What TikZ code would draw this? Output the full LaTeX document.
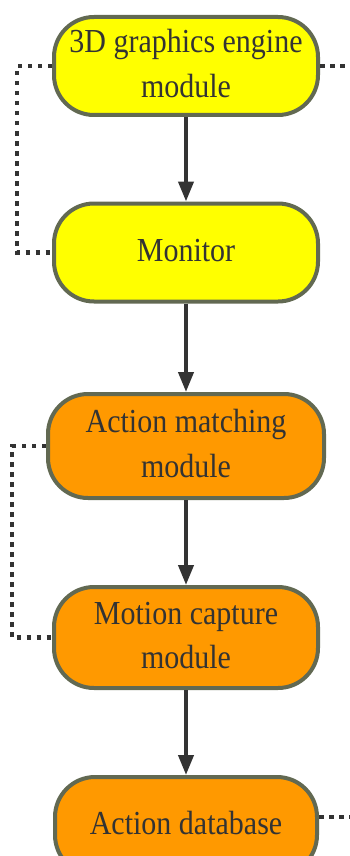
\documentclass[tikz,border=0pt]{standalone}
\usepackage{fontspec}
\setmainfont{Liberation Serif}
\usepackage{xcolor}
\usetikzlibrary{arrows.meta}
\definecolor{rimgrey}{RGB}{98,105,82}
\definecolor{inkgrey}{RGB}{51,51,51}
\definecolor{modorange}{RGB}{255,153,0}
\definecolor{modyellow}{RGB}{255,255,0}
\newcommand{\tallt}[1]{\scalebox{1}[1.12]{\begin{tabular}{@{}c@{}}#1\end{tabular}}}
\tikzset{
  modbox/.style={draw=rimgrey, line width=4pt, rounded corners=40pt,
    minimum width=264pt, minimum height=98pt, align=center, inner sep=0pt,
    text=inkgrey, font=\rmfamily\fontsize{30}{40}\selectfont},
  ybox/.style={modbox, fill=modyellow},
  obox/.style={modbox, fill=modorange},
  flow/.style={draw=inkgrey, line width=4pt,
    -{Triangle[width=15pt,length=20pt]}},
  dotline/.style={draw=inkgrey, line width=4.5pt,
    dash pattern=on 4.5pt off 5.5pt}
}

\begin{document}
\begin{tikzpicture}[x=1pt,y=-1pt]
\useasboundingbox (0,0) rectangle (350,856);
\clip (0,0) rectangle (350,856);

\node[ybox] (engine) at (186,66) {\tallt{3D graphics engine\\module}};
\node[ybox] (monitor) at (186,252.5) {\tallt{Monitor}};
\node[obox, minimum width=276pt, minimum height=104pt] (matching) at (186,446) {\tallt{Action matching\\module}};
\node[obox, minimum height=101pt] (capture) at (186,637.5) {\tallt{Motion capture\\module}};
\node[obox, minimum width=262pt] (database) at (186,826) {\tallt{Action database}};

\coordinate (engineout) at (350,66);
\coordinate (dbout) at (350,817);

\draw[flow] (engine) -- (monitor);
\draw[flow] (monitor) -- (matching);
\draw[flow] (matching) -- (capture);
\draw[flow] (capture) -- (database);

%feedback links
\draw[dotline] (engine.west) -- ([xshift=-35pt]engine.west) |- (monitor.west);
\draw[dotline] (matching.west) -- ([xshift=-34pt]matching.west) |- (capture.west);
\draw[dotline] (engine.east) -- (engineout);
\draw[dotline] (database.east |- dbout) -- (dbout);

\end{tikzpicture}
\end{document}
